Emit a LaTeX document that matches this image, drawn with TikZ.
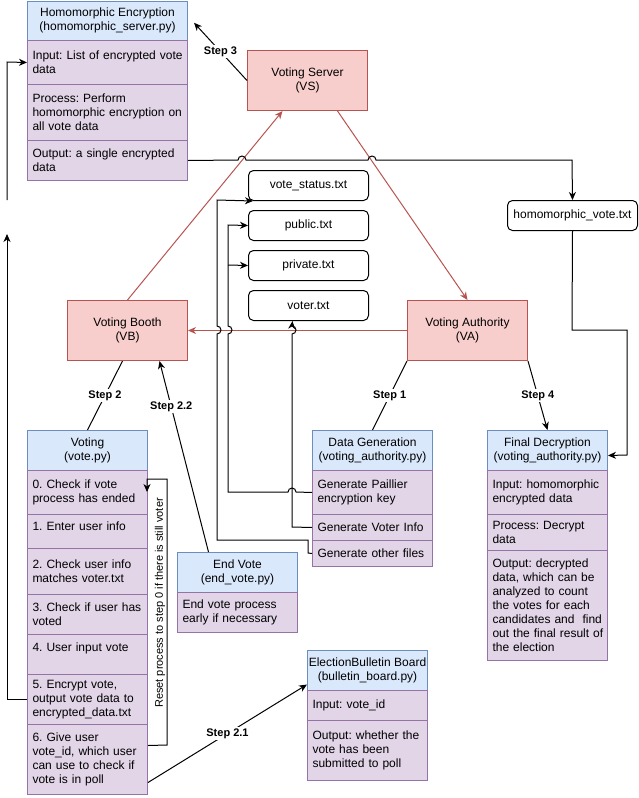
\documentclass[tikz,border=0pt]{standalone}
\usepackage{fontspec}
\setmainfont{Liberation Sans}
\usetikzlibrary{arrows.meta,calc}
\definecolor{bfill}{HTML}{DAE8FC}
\definecolor{bdraw}{HTML}{6C8EBF}
\definecolor{pfill}{HTML}{E1D5E7}
\definecolor{pdraw}{HTML}{9673A6}
\definecolor{rfill}{HTML}{F8CECC}
\definecolor{rdraw}{HTML}{B85450}
\newcommand{\oneline}[1]{\mbox{#1}}
\hfuzz=20pt
\frenchspacing
\begin{document}
\begin{tikzpicture}[x=1pt,y=-1pt,
  base/.style={font=\fontsize{12}{14}\selectfont\frenchspacing, line width=1pt, inner sep=0pt, anchor=north west},
  hdr/.style={base, draw=bdraw, fill=bfill, align=center, minimum height=40pt},
  rowbox/.style={base, draw=pdraw, fill=pfill, align=left, inner xsep=5pt, text width=110pt, minimum width=120pt},
  widerow/.style={rowbox, text width=150pt, minimum width=160pt},
  redbox/.style={base, draw=rdraw, fill=rfill, align=center, minimum width=120pt, minimum height=60pt},
  filebox/.style={base, draw=black, fill=white, rounded corners=5pt, minimum width=120pt, minimum height=30pt},
  conn/.style={line width=1pt, draw=black},
  arr/.style={conn, -{Stealth[length=8pt,width=7pt,inset=2.5pt]}},
  redarr/.style={line width=1pt, draw=rdraw, -{Stealth[length=8pt,width=7pt,inset=2.5pt]}},
  lbl/.style={font=\bfseries\fontsize{11}{13}\selectfont, fill=white, inner sep=1.5pt},
  sidelbl/.style={font=\fontsize{11}{13}\selectfont, inner sep=0pt, rotate=90}
]
\useasboundingbox (0,0) rectangle (638,798);

% Homomorphic Encryption
\node[hdr, minimum width=160pt, minimum height=39.5pt] (heh) at (27,0.5) {Homomorphic Encryption\\(homomorphic\_server.py)};
\node[widerow, minimum height=44pt] (hei) at (27,40) {\oneline{Input: List of encrypted vote}\\data};
\node[widerow, minimum height=56pt] (hep) at (27,84) {\oneline{Process: Perform}\\\oneline{homomorphic encryption on}\\\oneline{all vote data}};
\node[widerow, minimum height=40pt] (heo) at (27,140) {\oneline{Output: a single encrypted}\\data};

% Servers
\node[redbox] (vs) at (247,50) {Voting Server\\(VS)};
\node[redbox] (vb) at (67,300) {Voting Booth\\(VB)};
\node[redbox] (va) at (407,300) {Voting Authority\\(VA)};

% Files
\node[filebox] (vst) at (248,170) {vote\_status.txt};
\node[filebox] (pub) at (248,210) {public.txt};
\node[filebox] (prv) at (248,250) {private.txt};
\node[filebox] (vtr) at (248,290) {voter.txt};
\node[filebox, minimum width=130pt] (hv) at (507,200) {homomorphic\_vote.txt};

% Voting
\node[hdr, minimum width=120pt] (vh) at (27,430) {Voting\\(vote.py)};
\node[rowbox, minimum height=44pt] (v0) at (27,470) {\oneline{0. Check if vote}\\\oneline{process has ended}};
\node[rowbox, minimum height=34pt] (v1) at (27,514) {\oneline{1. Enter user info}\\[-4pt]\mbox{}};
\node[rowbox, minimum height=46pt] (v2) at (27,548) {\oneline{2. Check user info}\\\oneline{matches voter.txt}};
\node[rowbox, minimum height=40pt] (v3) at (27,594) {\oneline{3. Check if user has}\\voted};
\node[rowbox, minimum height=40pt] (v4) at (27,634) {\oneline{4. User input vote}\\\mbox{}};
\node[rowbox, minimum height=50pt] (v5) at (27,674) {\oneline{5. Encrypt vote,}\\\oneline{output vote data to}\\encrypted\_data.txt};
\node[rowbox, minimum height=70pt] (v6) at (27,724) {\oneline{6. Give user}\\\oneline{vote\_id, which user}\\\oneline{can use to check if}\\\oneline{vote is in poll}};

% Data Generation
\node[hdr, minimum width=120pt] (dgh) at (312,430) {Data Generation\\(voting\_authority.py)};
\node[rowbox, minimum height=44pt] (dg1) at (312,470) {\oneline{Generate Paillier}\\\oneline{encryption key}};
\node[rowbox, minimum height=26pt] (dg2) at (312,514) {\oneline{Generate Voter Info}};
\node[rowbox, minimum height=26pt] (dg3) at (312,540) {\oneline{Generate other files}};

% Final Decryption
\node[hdr, minimum width=120pt] (fdh) at (487,430) {Final Decryption\\(voting\_authority.py)};
\node[rowbox, minimum height=44pt] (fd1) at (487,470) {\oneline{Input: homomorphic}\\\oneline{encrypted data}};
\node[rowbox, minimum height=36pt] (fd2) at (487,514) {\oneline{Process: Decrypt}\\data};
\node[rowbox, minimum height=110pt] (fd3) at (487,550) {\oneline{Output: decrypted}\\\oneline{data, which can be}\\\oneline{analyzed to count}\\\oneline{the votes for each}\\\oneline{candidates and\ \ find}\\\oneline{out the final result of}\\\oneline{the election}};

% End Vote
\node[hdr, minimum width=120pt] (evh) at (177,552) {End Vote\\(end\_vote.py)};
\node[rowbox, minimum height=40pt] (ev1) at (177,592) {\oneline{End vote process}\\\oneline{early if necessary}};

% Election Bulletin Board
\node[hdr, minimum width=120pt] (ebh) at (307,650) {ElectionBulletin Board\\(bulletin\_board.py)};
\node[rowbox, minimum height=30pt] (eb1) at (307,690) {\oneline{Input: vote\_id}};
\node[rowbox, minimum height=60pt] (eb2) at (307,720) {\oneline{Output: whether the}\\\oneline{vote has been}\\\oneline{submitted to poll}};

% Red connectors
\draw[redarr] (vb.north) -- ($(vs.south)+(-25,0)$);
\draw[redarr] ($(vs.south)+(30,0)$) -- (va.north);
\draw[redarr] (va.west) -- (vb.east);

% Step connectors
\draw[arr] (vs.west) -- ($(heh.east)+(6,2)$) node[lbl,midway]{Step 3};
\draw[conn] (va.south west) -- (dgh.north) node[lbl,midway]{Step 1};
\draw[arr] (va.south east) -- (fdh.north) node[lbl,midway]{Step 4};
\draw[conn] ($(vb.south)+(-5,0)$) -- (vh.north) node[lbl,midway]{Step 2};
\draw[arr] ($(evh.north)+(-29,0)$) -- ($(vb.south)+(32,0)$) node[lbl,pos=0.76]{Step 2.2};
\draw[arr] ($(v6.east)+(0,23)$) -- ($(ebh.west)+(0,14)$) node[lbl,midway]{Step 2.1};

% Output -> homomorphic_vote.txt
\draw[arr] (heo.east) -- (238,160) arc(180:360:4) -- (368,160) arc(180:360:4) -- (572,160) -- (hv.north);
% homomorphic_vote.txt -> Final Decryption
\draw[arr] (hv.south) -- (572,330) -- (627,330) -- (627,455) -- ($(fdh.east)+(0,5)$);

% Voting loop
\draw[arr] ($(v6.east)+(0,-14)$) -- (167,745) -- (167,479) -- (147,479) -- (147,492);
\node[sidelbl] (loopl) at (160,603) {Reset process to step 0 if there is still voter};

% Left side lines
\draw[arr] (v5.west) -- (7,0 |- v5.west) -- (7,234);
\draw[arr] (7,200) -- (7,62) -- (hei.west);

% Data generation lines
\draw[arr] (dg1.west) -- (296,492) arc(0:-180:4) -- (228,492) -- (228,334) arc(90:-90:4) -- (228,225) -- (pub.west);
\draw[arr] (228,265) -- (prv.west);
\draw[arr] (dg2.west) -- (292,527) -- (292,334) arc(90:-90:4) -- ($(vtr.south)+(-16,0)$);
\draw[arr] (dg3.west) -- (308,553) -- (308,540) -- (217,540) -- (217,334) arc(90:-90:4) -- (217,200) -- ($(vst.south west)+(5,0)$);
\end{tikzpicture}
\end{document}
